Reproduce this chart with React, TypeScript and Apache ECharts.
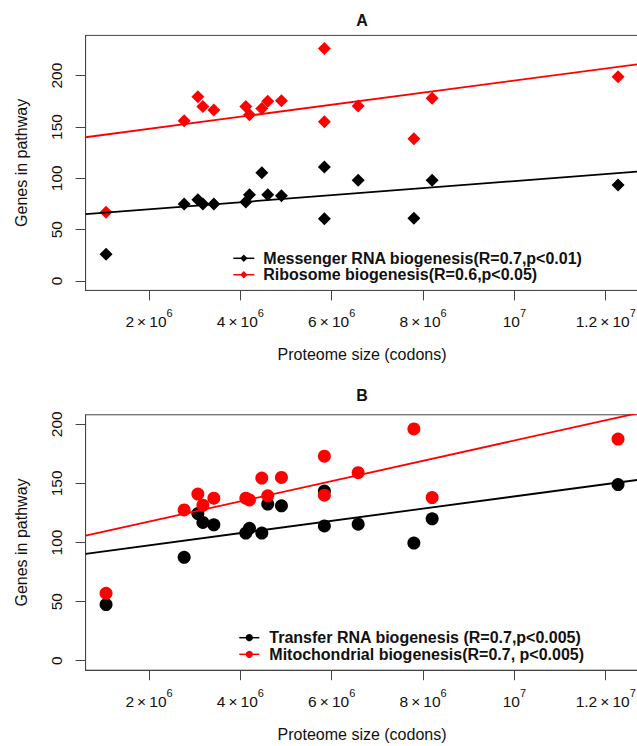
import React, { useEffect, useRef } from "react";
import * as echarts from "echarts";

// ---- data ----
const proteomeSize = [
  1.06e6, 2.77e6, 3.07e6, 3.18e6, 3.42e6, 4.12e6, 4.2e6, 4.47e6, 4.6e6, 4.9e6,
  5.84e6, 5.84e6, 6.58e6, 7.8e6, 8.2e6, 12.27e6,
];
const mrnaGenes = [26, 75, 79, 75, 75, 77, 84, 105.5, 84, 83, 111, 60.5, 98, 61, 98, 93.5];
const ribosomeGenes = [67, 156, 179.5, 170, 166.5, 170, 162, 168, 175, 175.5, 226.5, 155, 170.5, 138.5, 178, 199];
const trnaGenes = [47.5, 87.5, 124.5, 117, 115, 108, 112, 108, 132.5, 131, 114, 143.5, 115.5, 99.5, 120, 149];
const mitoGenes = [57, 127.5, 141, 131.5, 137.5, 137.5, 136, 154.5, 139.5, 155, 173, 140, 159, 196, 138, 187.5];

// regression fits: [intercept, slope per codon]
const fitMrna = [62.9, 3.438e-6];
const fitRibosome = [136.4, 5.88e-6];
const fitTrna = [87.3, 5.17e-6];
const fitMito = [100.5, 8.575e-6];

const xRange = [612000, 12718000];
const yRangeA = [-9.2, 239.2];
const yRangeB = [-8, 208];
const yTicks = [0, 50, 100, 150, 200];
const xTicks = [2e6, 4e6, 6e6, 8e6, 1e7, 1.2e7];
const xTickMantissa = ["2", "4", "6", "8", "", "1.2"];
const xTickExponent = ["6", "6", "6", "6", "7", "7"];

const legendA = [
  "Messenger RNA biogenesis(R=0.7,p<0.01)",
  "Ribosome biogenesis(R=0.6,p<0.05)",
];
const legendB = [
  "Transfer RNA biogenesis (R=0.7,p<0.005)",
  "Mitochondrial biogenesis(R=0.7, p<0.005)",
];

const FONT = '"Liberation Sans", Arial, Helvetica, sans-serif';
const TXT = "#111";
const AX = "#444";
const RED = "#ff0000";
const BLK = "#000000";

const zip = (xs: number[], ys: number[]) => xs.map((x, i) => [x, ys[i]]);
const fitLine = (f: number[]) => xRange.map((x) => [x, f[0] + f[1] * x]);

const xFormatter = (v: number) => {
  const i = xTicks.findIndex((t) => Math.abs(t - v) < 1);
  if (i < 0) return "";
  const m = xTickMantissa[i];
  const e = xTickExponent[i];
  return m ? `{b|${m}\u2009\u00d7\u200910}{s|${e}}` : `{b|10}{s|${e}}`;
};

function makeXAxis(gridIndex: number) {
  return {
    type: "value",
    gridIndex,
    min: xRange[0],
    max: xRange[1],
    axisLine: { show: true, onZero: false, lineStyle: { color: AX, width: 1 } },
    axisTick: { show: true, length: 10, customValues: xTicks, lineStyle: { color: AX } },
    axisLabel: {
      customValues: xTicks,
      formatter: xFormatter,
      margin: 17,
      fontSize: 15.5,
      fontFamily: FONT,
      color: TXT,
      rich: {
        b: { fontSize: 15.5, fontFamily: FONT, color: TXT, lineHeight: 22, verticalAlign: "bottom" },
        s: { fontSize: 11, fontFamily: FONT, color: TXT, lineHeight: 22, verticalAlign: "top" },
      },
    },
    splitLine: { show: false },
    name: "Proteome size (codons)",
    nameLocation: "middle",
    nameGap: 56.5,
    nameTextStyle: { fontSize: 16, fontFamily: FONT, color: TXT },
  };
}

function makeYAxis(gridIndex: number, range: number[]) {
  return {
    type: "value",
    gridIndex,
    min: range[0],
    max: range[1],
    axisLine: { show: true, onZero: false, lineStyle: { color: AX, width: 1 } },
    axisTick: { show: true, length: 10, customValues: yTicks, lineStyle: { color: AX } },
    axisLabel: {
      customValues: yTicks,
      rotate: 90,
      margin: 21,
      fontSize: 15.5,
      fontFamily: FONT,
      color: TXT,
    },
    splitLine: { show: false },
    name: "Genes in pathway",
    nameLocation: "middle",
    nameGap: 56,
    nameRotate: 90,
    nameTextStyle: { fontSize: 16, fontFamily: FONT, color: TXT },
  };
}

function legendRows(
  texts: string[],
  colors: string[],
  ys: number[],
  x0: number,
  x1: number,
  tx: number,
  kind: "diamond" | "circle"
) {
  const els: any[] = [];
  texts.forEach((t, i) => {
    const y = ys[i];
    const cx = (x0 + x1) / 2;
    els.push({
      type: "line",
      shape: { x1: x0, y1: y, x2: x1, y2: y },
      style: { stroke: colors[i], lineWidth: 1.5 },
    });
    if (kind === "diamond") {
      els.push({
        type: "polygon",
        shape: { points: [[cx, y - 3.8], [cx + 3.6, y], [cx, y + 3.8], [cx - 3.6, y]] },
        style: { fill: colors[i] },
      });
    } else {
      els.push({ type: "circle", shape: { cx, cy: y, r: 3.6 }, style: { fill: colors[i] } });
    }
    els.push({
      type: "text",
      x: tx,
      y,
      style: {
        text: t,
        font: `bold 16px ${FONT}`,
        fill: TXT,
        textAlign: "left",
        textVerticalAlign: "middle",
      },
    });
  });
  return els;
}

export default function App() {
  const ref = useRef<HTMLDivElement>(null);
  useEffect(() => {
    if (!ref.current) return;
    const chart = echarts.init(ref.current, undefined, { renderer: "svg" });
    const gridBase = {
      left: 85.6,
      width: 552.9,
      show: true,
      borderColor: AX,
      borderWidth: 1,
      backgroundColor: "transparent",
      containLabel: false,
    };
    const scatter = (name: string, xi: number, data: number[][], color: string, symbol: string) => ({
      name,
      type: "scatter",
      xAxisIndex: xi,
      yAxisIndex: xi,
      symbol,
      symbolSize: 13,
      itemStyle: { color, opacity: 1 },
      data,
      z: 2,
    });
    const line = (name: string, xi: number, data: number[][], color: string) => ({
      name,
      type: "line",
      xAxisIndex: xi,
      yAxisIndex: xi,
      data,
      symbol: "none",
      showSymbol: false,
      lineStyle: { color, width: 1.8 },
      clip: true,
      silent: true,
      z: 3,
    });
    chart.setOption({
      animation: false,
      backgroundColor: "#ffffff",
      textStyle: { fontFamily: FONT },
      grid: [
        { ...gridBase, top: 35.4, height: 255 },
        { ...gridBase, top: 414.8, height: 255.4 },
      ],
      xAxis: [makeXAxis(0), makeXAxis(1)],
      yAxis: [makeYAxis(0, yRangeA), makeYAxis(1, yRangeB)],
      series: [
        scatter("mRNA", 0, zip(proteomeSize, mrnaGenes), BLK, "diamond"),
        scatter("Ribosome", 0, zip(proteomeSize, ribosomeGenes), RED, "diamond"),
        line("mRNA fit", 0, fitLine(fitMrna), BLK),
        line("Ribosome fit", 0, fitLine(fitRibosome), RED),
        scatter("tRNA", 1, zip(proteomeSize, trnaGenes), BLK, "circle"),
        scatter("Mito", 1, zip(proteomeSize, mitoGenes), RED, "circle"),
        line("tRNA fit", 1, fitLine(fitTrna), BLK),
        line("Mito fit", 1, fitLine(fitMito), RED),
      ],
      graphic: [
        {
          type: "text",
          x: 362,
          y: 20,
          style: { text: "A", font: `bold 16px ${FONT}`, fill: TXT, textAlign: "center", textVerticalAlign: "middle" },
        },
        {
          type: "text",
          x: 362,
          y: 395,
          style: { text: "B", font: `bold 16px ${FONT}`, fill: TXT, textAlign: "center", textVerticalAlign: "middle" },
        },
        ...legendRows(legendA, [BLK, RED], [258.3, 274.7], 233.3, 254.3, 263.3, "diamond"),
        ...legendRows(legendB, [BLK, RED], [637.7, 654.3], 239.3, 259.3, 269.3, "circle"),
      ],
    });
    return () => chart.dispose();
  }, []);
  return (
    <div
      style={{
        position: "fixed",
        left: 0,
        top: 0,
        width: 637,
        height: 746,
        overflow: "hidden",
        background: "#fff",
      }}
    >
      <div ref={ref} style={{ width: 660, height: 746 }} />
    </div>
  );
}
